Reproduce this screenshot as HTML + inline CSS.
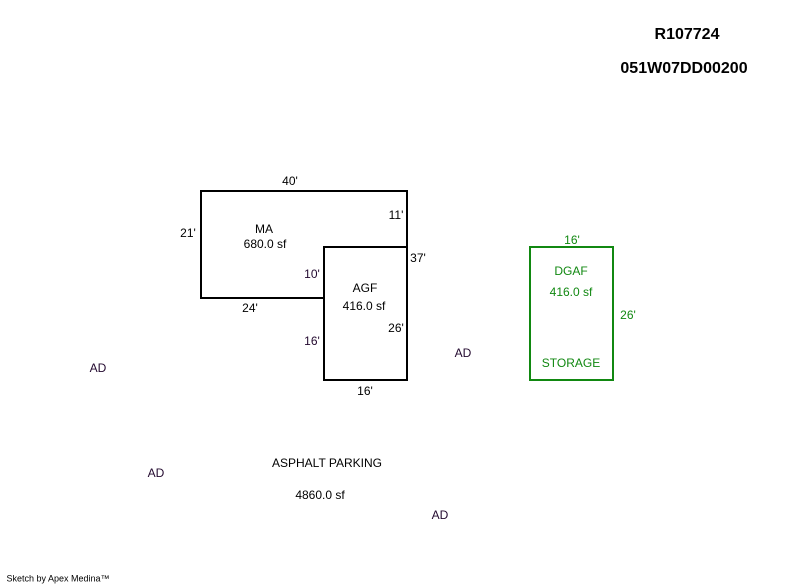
<!DOCTYPE html>
<html><head><style>
body{margin:0;width:800px;height:587px;background:#fff;position:relative;font-family:"Liberation Sans",Arial,sans-serif;font-size:12px;color:#000;overflow:hidden}
.t{position:absolute;transform:translate(-50%,-50%);white-space:nowrap;line-height:1}
.g{color:#118811}
.p{color:#22082e}
.b{font-weight:bold;font-size:16px}
</style></head><body>
<svg width="800" height="587" style="position:absolute;left:0;top:0">
<path d="M201 191H407V380H324V298H201Z" fill="none" stroke="#000" stroke-width="2"/>
<path d="M324 298V247H407" fill="none" stroke="#000" stroke-width="2"/>
<rect x="530" y="247" width="83" height="133" fill="none" stroke="#118811" stroke-width="2"/>
</svg>
<div class="t b" style="left:687px;top:35px">R107724</div>
<div class="t b" style="left:684px;top:69px">051W07DD00200</div>
<div class="t" style="left:290px;top:181px">40'</div>
<div class="t" style="left:188px;top:233px">21'</div>
<div class="t" style="left:396px;top:215px">11'</div>
<div class="t" style="left:418px;top:258px">37'</div>
<div class="t" style="left:264px;top:229px">MA</div>
<div class="t" style="left:265px;top:244px">680.0 sf</div>
<div class="t p" style="left:312px;top:274px">10'</div>
<div class="t" style="left:250px;top:308px">24'</div>
<div class="t" style="left:365px;top:288px">AGF</div>
<div class="t" style="left:364px;top:306px">416.0 sf</div>
<div class="t" style="left:396px;top:328px">26'</div>
<div class="t p" style="left:312px;top:341px">16'</div>
<div class="t" style="left:365px;top:391px">16'</div>
<div class="t p" style="left:463px;top:353px">AD</div>
<div class="t g" style="left:572px;top:240px">16'</div>
<div class="t g" style="left:571px;top:271px">DGAF</div>
<div class="t g" style="left:571px;top:292px">416.0 sf</div>
<div class="t g" style="left:628px;top:315px">26'</div>
<div class="t g" style="left:571px;top:363px">STORAGE</div>
<div class="t p" style="left:98px;top:368px">AD</div>
<div class="t p" style="left:156px;top:473px">AD</div>
<div class="t" style="left:327px;top:463px">ASPHALT PARKING</div>
<div class="t" style="left:320px;top:495px">4860.0 sf</div>
<div class="t p" style="left:440px;top:515px">AD</div>
<div class="t" style="left:58px;top:579px;font-size:9px">Sketch by Apex Medina™</div>
</body></html>
